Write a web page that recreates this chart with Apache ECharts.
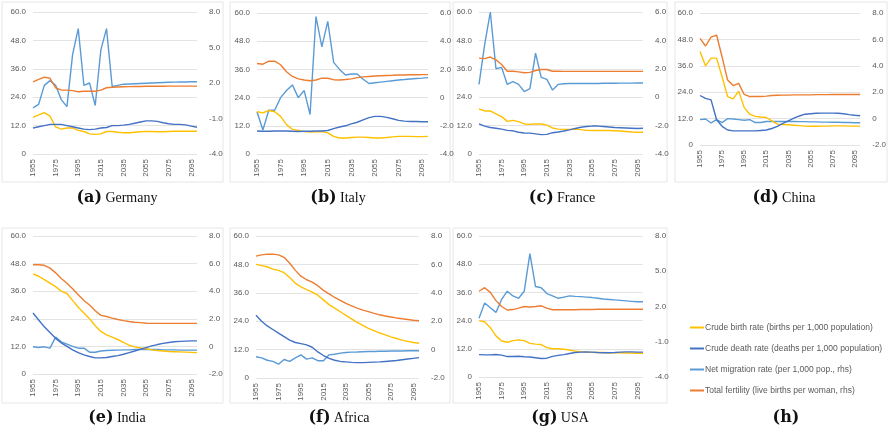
<!DOCTYPE html>
<html><head><meta charset="utf-8">
<script src="https://cdn.jsdelivr.net/npm/echarts@6/dist/echarts.min.js"></script>
<style>html,body{margin:0;background:#fff}#c{width:889px;height:435px}</style>
</head><body><div id="c"></div>
<script>
const years = [];
for (let y = 1955; y <= 2100; y += 5) years.push(String(y));

const seriesNames = ['Crude birth rate (births per 1,000 population)', 'Crude death rate (deaths per 1,000 population)',
  'Net migration rate (per 1,000 pop., rhs)', 'Total fertility (live births per woman, rhs)'];
const colors = ['#FFC000', '#4472C4', '#5B9BD5', '#ED7D31'];

// Germany
const deBirth = [15.5,16.5,17.5,16,11.5,10.5,11,11,10,9.5,8.5,8.3,8.5,9.5,9.5,9.2,9,9,9.2,9.4,9.5,9.5,9.4,9.4,9.5,9.6,9.6,9.6,9.6,9.6];
const deDeath = [11,11.5,12,12.5,12.5,12.5,12,11.5,11,10.5,10.3,10.5,11,11.2,12,12,12.2,12.5,13,13.5,14,14,13.8,13.2,12.8,12.5,12.5,12.3,11.8,11.3];
const deMig = [-0.1,0.2,1.8,2.2,1.8,0.6,0,4.4,6.6,1.8,2,0.1,4.8,6.6,1.7,1.8,1.9,1.92,1.94,1.96,1.98,2,2.02,2.04,2.06,2.07,2.08,2.09,2.1,2.1];
const deTfr = [2.1,2.3,2.5,2.4,1.6,1.4,1.4,1.36,1.26,1.3,1.3,1.3,1.4,1.6,1.64,1.66,1.68,1.69,1.7,1.71,1.72,1.72,1.73,1.73,1.74,1.74,1.74,1.74,1.74,1.74];
// Italy
const itBirth = [18,17.5,18.5,18,16,12.5,10.5,10,9.5,9.3,9.4,9.5,9,7.5,6.8,6.8,7,7.2,7.2,7,6.8,6.8,7,7.3,7.5,7.5,7.5,7.4,7.4,7.5];
const itDeath = [9.8,9.7,9.7,9.8,9.8,9.8,9.7,9.6,9.7,9.7,9.8,9.8,10,10.8,11.5,12,12.8,13.5,14.5,15.5,16,16,15.6,15,14.3,14,13.8,13.8,13.7,13.7];
const itMig = [-1,-2.3,-0.9,-0.9,0,0.5,0.9,0,0.5,-1.2,5.75,3.6,5.4,2.5,2,1.6,1.67,1.67,1.3,1,1.05,1.1,1.15,1.2,1.25,1.28,1.32,1.35,1.38,1.42];
const itTfr = [2.42,2.37,2.58,2.58,2.33,1.83,1.5,1.33,1.25,1.2,1.25,1.38,1.37,1.27,1.25,1.28,1.33,1.42,1.47,1.5,1.53,1.55,1.57,1.58,1.6,1.6,1.62,1.62,1.63,1.63];
// France
const frBirth = [19,18.2,18.2,17,15.8,13.8,14.2,13.7,12.7,12.5,12.7,12.7,12.2,11,10.5,10.4,10.4,10.5,10.3,10,9.9,9.9,9.9,9.9,9.8,9.7,9.5,9.3,9.2,9.2];
const frDeath = [12.7,11.8,11.2,10.9,10.5,10,9.8,9.2,8.9,8.8,8.5,8.2,8.3,9,9.3,9.7,10.2,10.8,11.3,11.6,11.8,11.8,11.6,11.4,11.2,11.1,11,10.9,10.8,10.9];
const frMig = [0.9,3.7,6,2,2.1,0.9,1.1,0.9,0.4,0.6,3.1,1.4,1.25,0.5,0.9,0.95,0.96,0.96,0.96,0.97,0.97,0.97,0.98,0.98,0.98,0.99,0.99,0.99,1,1];
const frTfr = [2.75,2.72,2.83,2.63,2.3,1.83,1.83,1.78,1.72,1.75,1.88,1.95,1.95,1.83,1.83,1.82,1.82,1.82,1.82,1.82,1.82,1.82,1.82,1.82,1.82,1.82,1.82,1.82,1.82,1.82];
// China
const cnBirth = [42.5,36,39.5,39.5,31,22,21,24.5,17,14,13,12.7,12.5,11,9.5,9.3,9.2,9,8.8,8.6,8.5,8.5,8.6,8.6,8.7,8.7,8.7,8.6,8.6,8.6];
const cnDeath = [22.5,21.2,20.5,11.5,8.5,6.8,6.4,6.4,6.4,6.4,6.4,6.6,6.8,7.5,8.5,9.8,11,12.2,13.2,14,14.2,14.4,14.5,14.5,14.5,14.4,14.2,13.8,13.5,13.3];
const cnMig = [-0.08,-0.03,-0.33,-0.08,-0.3,0,-0.03,-0.08,-0.13,-0.08,-0.3,-0.3,-0.22,-0.22,-0.22,-0.22,-0.22,-0.22,-0.23,-0.23,-0.25,-0.25,-0.27,-0.27,-0.28,-0.28,-0.3,-0.3,-0.32,-0.32];
const cnTfr = [6.08,5.5,6.17,6.33,4.67,2.92,2.5,2.67,1.83,1.67,1.67,1.67,1.7,1.75,1.77,1.78,1.78,1.8,1.8,1.8,1.8,1.82,1.82,1.82,1.83,1.83,1.83,1.83,1.83,1.83];
// India
const inBirth = [43.5,42.5,41,39.5,38,36,35,32,29,26.5,24,21,18.5,17,16,15,13.8,12.5,11.8,11.3,11,10.5,10.2,10,9.8,9.7,9.6,9.5,9.4,9.3];
const inDeath = [26.5,23.5,20.5,18,15.5,13.5,12,10.5,9.3,8.3,7.6,7,7,7.2,7.6,8,8.6,9.3,10,10.8,11.5,12.2,12.8,13.3,13.7,14,14.2,14.3,14.4,14.4];
const inMig = [-0.03,-0.08,-0.03,-0.13,0.67,0.33,0.17,0,-0.13,-0.13,-0.42,-0.42,-0.33,-0.3,-0.28,-0.27,-0.25,-0.25,-0.23,-0.23,-0.23,-0.23,-0.23,-0.25,-0.25,-0.25,-0.27,-0.27,-0.27,-0.27];
const inTfr = [5.92,5.92,5.88,5.67,5.33,4.92,4.58,4.17,3.75,3.33,3,2.58,2.25,2.17,2.05,1.95,1.87,1.8,1.75,1.72,1.68,1.67,1.67,1.67,1.67,1.67,1.67,1.67,1.67,1.67];
// Africa
const afBirth = [48,47.5,47,46,45.5,44.5,42.5,40,38.5,37.3,36.3,35,33,31,29.5,28,26.5,25,23.5,22.2,21,20,19,18.2,17.4,16.7,16,15.5,15,14.7];
const afDeath = [26.5,24,22,20.5,19,17.5,16,15,14.5,14,13,11,9.5,8.3,7.5,7,6.8,6.6,6.5,6.5,6.6,6.7,6.8,7,7.2,7.4,7.7,8,8.3,8.6];
const afMig = [-0.5,-0.58,-0.75,-0.83,-1.03,-0.7,-0.83,-0.58,-0.37,-0.67,-0.58,-0.78,-0.78,-0.37,-0.33,-0.25,-0.2,-0.18,-0.17,-0.15,-0.13,-0.13,-0.12,-0.12,-0.1,-0.1,-0.1,-0.08,-0.08,-0.08];
const afTfr = [6.58,6.67,6.72,6.72,6.67,6.5,6.08,5.58,5.17,4.92,4.75,4.5,4.17,3.92,3.67,3.47,3.25,3.08,2.92,2.78,2.67,2.55,2.45,2.37,2.3,2.23,2.17,2.12,2.07,2.03];
// USA
const usBirth = [24,23.5,21,17.5,15.3,14.8,15.5,15.8,15.5,14.3,14,13.8,12.5,12,12,11.8,11.5,11,10.8,10.6,10.5,10.4,10.4,10.3,10.3,10.3,10.2,10.2,10.1,10.1];
const usDeath = [9.5,9.4,9.4,9.6,9.3,8.7,8.7,8.8,8.6,8.5,8.2,7.9,8,8.8,9.2,9.5,10,10.4,10.6,10.7,10.6,10.4,10.3,10.3,10.4,10.6,10.7,10.7,10.6,10.6];
const usMig = [1,2.3,1.9,1.5,2.6,3.3,2.9,2.7,3.3,6.5,3.7,3.6,3.1,2.9,2.7,2.8,2.9,2.86,2.84,2.8,2.76,2.7,2.64,2.6,2.56,2.52,2.48,2.44,2.4,2.4];
const usTfr = [3.3,3.6,3.2,2.5,2,1.7,1.74,1.86,2,1.96,2,2.06,1.86,1.72,1.72,1.72,1.72,1.72,1.74,1.74,1.74,1.76,1.76,1.76,1.76,1.76,1.76,1.76,1.76,1.76];

const panels = [
  { tag: '(a)', name: 'Germany', data: [deBirth, deDeath, deMig, deTfr], r: [-4, 8, 3], g: [33, 12, 164, 142], box: [2, 2, 221, 180], tx: 117, ty: 198 },
  { tag: '(b)', name: 'Italy', data: [itBirth, itDeath, itMig, itTfr], r: [-4, 6, 2], g: [257, 13, 171, 141], box: [230, 2, 220, 180], tx: 338, ty: 198 },
  { tag: '(c)', name: 'France', data: [frBirth, frDeath, frMig, frTfr], r: [-4, 6, 2], g: [479, 12, 164, 142], box: [453, 2, 214, 180], tx: 562, ty: 198 },
  { tag: '(d)', name: 'China', data: [cnBirth, cnDeath, cnMig, cnTfr], r: [-2, 8, 2], g: [700, 13, 167, 132], box: [675, 2, 212, 180], tx: 784, ty: 198 },
  { tag: '(e)', name: 'India', data: [inBirth, inDeath, inMig, inTfr], r: [-2, 8, 2], g: [33, 236, 164, 138], box: [2, 228, 221, 175], tx: 117, ty: 418 },
  { tag: '(f)', name: 'Africa', data: [afBirth, afDeath, afMig, afTfr], r: [-2, 8, 2], g: [256, 236, 163, 142], box: [230, 228, 220, 175], tx: 339, ty: 418 },
  { tag: '(g)', name: 'USA', data: [usBirth, usDeath, usMig, usTfr], r: [-4, 8, 3], g: [479, 236, 164, 141], box: [453, 228, 214, 175], tx: 560, ty: 418 }
];

const fmt = v => v === 0 ? '0' : v.toFixed(1);
const lbl = { color: '#595959', fontSize: 8, fontFamily: 'Liberation Sans' };
const grid = [], xAxis = [], yAxis = [], series = [], graphic = [];

panels.forEach((p, i) => {
  grid.push({ left: p.g[0], top: p.g[1], width: p.g[2], height: p.g[3] });
  xAxis.push({ type: 'category', gridIndex: i, data: years, boundaryGap: false,
    axisLine: { show: false }, axisTick: { show: false },
    axisLabel: Object.assign({ rotate: 90, interval: 3, margin: 5 }, lbl) });
  yAxis.push({ type: 'value', gridIndex: i, min: 0, max: 60, interval: 12,
    axisLabel: Object.assign({ formatter: fmt, margin: 7 }, lbl),
    splitLine: { lineStyle: { color: '#e3e3e3' } } });
  yAxis.push({ type: 'value', gridIndex: i, position: 'right', min: p.r[0], max: p.r[1], interval: p.r[2],
    axisLabel: Object.assign({ formatter: fmt, margin: 12 }, lbl), splitLine: { show: false } });
  p.data.forEach((d, k) => {
    series.push({ name: seriesNames[k], type: 'line', xAxisIndex: i, yAxisIndex: k < 2 ? 2 * i : 2 * i + 1,
      data: d, showSymbol: false, symbol: 'none', color: colors[k], lineStyle: { width: 1.4 }, z: 2 + (k === 2 ? 0 : 1) });
  });
  graphic.push({ type: 'rect', shape: { x: p.box[0], y: p.box[1], width: p.box[2], height: p.box[3] },
    style: { fill: 'none', stroke: '#e6e6e6', lineWidth: 1 }, silent: true });
  graphic.push({ type: 'text', x: p.tx, y: p.ty, style: {
    text: '{b|' + p.tag + '} {n|' + p.name + '}', align: 'center', verticalAlign: 'middle',
    rich: { b: { fontFamily: 'DejaVu Serif', fontWeight: 'bold', fontSize: 16, fill: '#111' },
            n: { fontFamily: 'Liberation Serif', fontSize: 14, fill: '#111' } } } });
});
graphic.push({ type: 'text', x: 786, y: 418, style: { text: '(h)', align: 'center', verticalAlign: 'middle',
  fontFamily: 'DejaVu Serif', fontWeight: 'bold', fontSize: 16, fill: '#111' } });

const chart = echarts.init(document.getElementById('c'));
chart.setOption({
  animation: false,
  grid, xAxis, yAxis, series, graphic,
  legend: { data: seriesNames, orient: 'vertical', left: 685, top: 318, itemGap: 12,
    icon: 'rect', itemWidth: 14, itemHeight: 2,
    textStyle: { color: '#595959', fontSize: 8.5, fontFamily: 'Liberation Sans', padding: [0, 0, 0, -4] } }
});
</script></body></html>
